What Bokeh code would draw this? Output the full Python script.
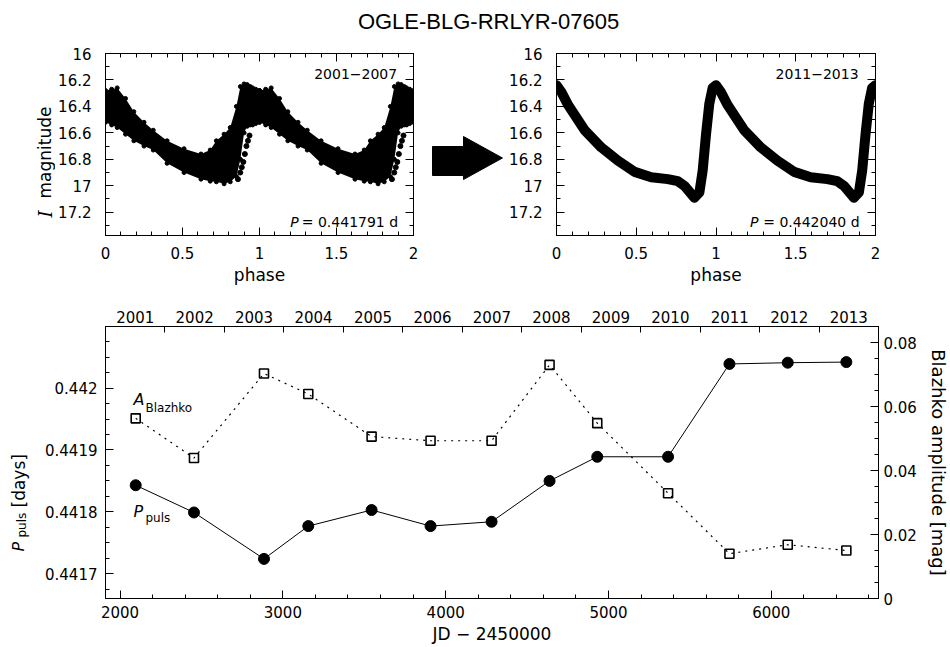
import numpy as np
from datetime import date
from bokeh.plotting import figure
from bokeh.layouts import column, row
from bokeh.models import (Range1d, LinearAxis, FixedTicker, SingleIntervalTicker,
                          NumeralTickFormatter, CustomJSTickFormatter, Label)
from bokeh.embed import file_html
from bokeh.resources import INLINE

# ---------------------------------------------------------------- data
TITLE = "OGLE-BLG-RRLYR-07605"

# 2001-2007 light curve (one pulsation cycle):
# bright (upper) and faint (lower) envelope of the dense band of points
lc1_phase = [0.00, 0.04, 0.076, 0.13, 0.184, 0.25, 0.31, 0.40, 0.51, 0.62, 0.68,
             0.72, 0.77, 0.81, 0.85, 0.876, 0.90, 0.92, 0.94, 0.955, 0.975, 1.00]
lc1_upper = [16.28, 16.27, 16.26, 16.34, 16.44, 16.52, 16.58, 16.66, 16.72, 16.76, 16.73,
             16.66, 16.61, 16.56, 16.40, 16.25, 16.23, 16.235, 16.25, 16.26, 16.27, 16.28]
lc1_lower = [16.52, 16.54, 16.56, 16.61, 16.66, 16.70, 16.73, 16.83, 16.90, 16.95, 16.965,
             16.97, 16.985, 16.97, 16.93, 16.80, 16.60, 16.55, 16.54, 16.54, 16.53, 16.52]
# isolated faint points on the rising branch
lc1_out_phase = [0.86, 0.875, 0.885, 0.895, 0.905, 0.915, 0.925, 0.935]
lc1_out_mag = [16.95, 16.90, 16.86, 16.82, 16.76, 16.70, 16.66, 16.62]
lc1_years = "2001\u22122007"
lc1_period = "= 0.441791 d"

# 2011-2013 light curve (one pulsation cycle, mean curve)
lc2_phase = [0.0, 0.03, 0.073, 0.177, 0.281, 0.385, 0.49, 0.594, 0.698, 0.76,
             0.802, 0.844, 0.865, 0.896, 0.917, 0.9375, 0.958, 0.979, 1.0]
lc2_mag = [16.24, 16.29, 16.39, 16.58, 16.71, 16.81, 16.895, 16.935, 16.95, 16.965,
           17.0, 17.06, 17.09, 17.05, 16.88, 16.61, 16.38, 16.26, 16.24]
lc2_years = "2011\u22122013"
lc2_period = "= 0.442040 d"

# seasonal values
seasons = ["2001", "2002", "2003", "2004", "2005", "2006", "2007",
           "2008", "2009", "2010", "2011", "2012", "2013"]
season_jd = [2096, 2454, 2884, 3156, 3545, 3907, 4282, 4638, 4931, 5366, 5743, 6101, 6461]
p_puls = [0.441843, 0.441799, 0.441724, 0.441777, 0.441803, 0.441777, 0.441784,
          0.441850, 0.441889, 0.441889, 0.442039, 0.442041, 0.442042]
a_blazhko = [0.0563, 0.0439, 0.0703, 0.0639, 0.0506, 0.0493, 0.0493,
             0.0730, 0.0548, 0.0329, 0.0140, 0.0168, 0.0150]

# ---------------------------------------------------------------- helpers
FONT = "DejaVu Sans"
TICK_FS = "15px"
LABEL_FS = "17px"
INK = "black"
ROT = np.pi / 2


def jd_of_year_start(y):
    return (date(y, 1, 1) - date(2000, 1, 1)).days + 2451544.5 - 2450000


year_starts = [jd_of_year_start(int(s)) for s in seasons] + [jd_of_year_start(int(seasons[-1]) + 1)]
year_mids = [(a + b) / 2 for a, b in zip(year_starts[:-1], year_starts[1:])]


def style_axis(ax, standoff, major=8, minor=4):
    ax.major_label_text_font = FONT
    ax.major_label_text_font_size = TICK_FS
    ax.major_label_text_color = INK
    ax.axis_line_color = INK
    ax.axis_line_width = 1
    ax.major_tick_in = major
    ax.major_tick_out = 0
    ax.minor_tick_in = minor
    ax.minor_tick_out = 0
    ax.major_tick_line_color = INK
    ax.minor_tick_line_color = INK
    ax.major_label_standoff = standoff
    ax.axis_label_text_font = FONT
    ax.axis_label_text_font_size = LABEL_FS
    ax.axis_label_text_font_style = "normal"
    ax.axis_label_text_color = INK
    ax.axis_label_standoff = 4


def mirror_axis(p, side, ticker, **kw):
    ax = LinearAxis(ticker=ticker, formatter=CustomJSTickFormatter(code="return ''"), **kw)
    style_axis(ax, 0)
    p.add_layout(ax, side)


def blank_figure(w, h):
    f = figure(frame_width=w, frame_height=h, x_range=Range1d(0, w), y_range=Range1d(h, 0),
               min_border=0, x_axis_location=None, y_axis_location=None,
               toolbar_location=None, output_backend="svg")
    f.grid.visible = False
    f.outline_line_color = None
    return f


def text(fig, x, y, s, size, **kw):
    kw.setdefault("text_font", FONT)
    fig.add_layout(Label(x=x, y=y, text=s, text_font_size=size, text_color=INK,
                         text_baseline="alphabetic", **kw))


def lc_figure(left, right, frame_width):
    p = figure(frame_width=frame_width, frame_height=182,
               x_range=Range1d(0, 2), y_range=Range1d(17.376, 16),
               min_border_left=left, min_border_right=right,
               min_border_top=13, min_border_bottom=55,
               toolbar_location=None, output_backend="svg")
    p.grid.visible = False
    p.outline_line_color = INK
    xt = SingleIntervalTicker(interval=0.5, num_minor_ticks=5)
    yt = SingleIntervalTicker(interval=0.2, num_minor_ticks=2)
    p.xaxis.ticker = xt
    p.yaxis.ticker = yt
    p.xaxis.formatter = NumeralTickFormatter(format="0.[0]")
    p.yaxis.formatter = NumeralTickFormatter(format="0.[0]")
    style_axis(p.xaxis[0], 11)
    style_axis(p.yaxis[0], 14)
    p.xaxis.axis_label = "phase"
    p.xaxis.axis_label_standoff = 3
    mirror_axis(p, "above", xt)
    mirror_axis(p, "right", yt)
    return p


def corner_labels(p, years, period, p_right):
    text(p, 1.894, 16.155, years, "14px", text_align="right")
    text(p, 1.9, 17.277, period, "14px", text_align="right")
    text(p, p_right, 17.277, "P", "14px", text_align="right", text_font_style="italic")


def two_cycles(phase, *mags):
    ph = np.concatenate([phase, np.array(phase) + 1])
    return (ph,) + tuple(np.concatenate([m, m]) for m in mags)


# ---------------------------------------------------------------- title
pt = blank_figure(950, 40)
text(pt, 488, 21, TITLE, "22px", text_align="center", text_font="Liberation Sans")

# ---------------------------------------------------------------- y title of light curves
lab1 = blank_figure(55, 250)
text(lab1, 45, 164, "I", "18px", angle=ROT, text_font="DejaVu Serif", text_font_style="italic")
text(lab1, 44, 145, "magnitude", LABEL_FS, angle=ROT)

# ---------------------------------------------------------------- light curve 2001-2007
p1 = lc_figure(50, 7, 308)
x1, u1, l1 = two_cycles(lc1_phase, lc1_upper, lc1_lower)
p1.varea(x=x1, y1=u1, y2=l1, fill_color=INK)
p1.scatter(x1, u1, size=4, color=INK)
p1.scatter(x1, l1, size=4, color=INK)
xo, mo = two_cycles(lc1_out_phase, lc1_out_mag)
p1.scatter(xo, mo, size=5, color=INK)
corner_labels(p1, lc1_years, lc1_period, 1.255)

# ---------------------------------------------------------------- arrow
pa = blank_figure(85, 250)
ARROW_X = [12, 43, 43, 82, 43, 43, 12]
ARROW_Y = [93, 93, 83, 104.5, 126, 122, 122]
pa.patch(ARROW_X, ARROW_Y, color=INK)

# ---------------------------------------------------------------- light curve 2011-2013
p2 = lc_figure(51, 75, 319)
x2 = np.concatenate([lc2_phase, np.array(lc2_phase[1:]) + 1])
m2 = np.concatenate([lc2_mag, lc2_mag[1:]])
p2.line(x2, m2, line_width=10, color=INK, line_join="round", line_cap="round")
corner_labels(p2, lc2_years, lc2_period, 1.266)

# ---------------------------------------------------------------- y title of bottom panel
lab3 = blank_figure(40, 357)
text(lab3, 18, 225, "P", "16px", angle=ROT, text_font_style="italic")
text(lab3, 21.5, 211, "puls", "12px", angle=ROT)
text(lab3, 18.5, 181, "[days]", LABEL_FS, angle=ROT)

# ---------------------------------------------------------------- period / amplitude
JD0, JD1 = year_starts[0], year_starts[-1]
P0, P1 = 0.44166, 0.4420995
p3 = figure(frame_width=773, frame_height=272,
            x_range=Range1d(JD0, JD1), y_range=Range1d(P0, P1),
            min_border_left=65, min_border_right=72, min_border_top=36, min_border_bottom=49,
            toolbar_location=None, output_backend="svg")
p3.grid.visible = False
p3.outline_line_color = INK
p3.extra_y_ranges = {"amp": Range1d(0, 0.085)}

p3.xaxis.ticker = SingleIntervalTicker(interval=1000, num_minor_ticks=5)
p3.yaxis.ticker = SingleIntervalTicker(interval=0.0001, num_minor_ticks=4)
p3.xaxis.formatter = NumeralTickFormatter(format="0")
p3.yaxis.formatter = NumeralTickFormatter(format="0.[0000]")
style_axis(p3.xaxis[0], 7)
style_axis(p3.yaxis[0], 8)
p3.xaxis.axis_label = "JD \u2212 2450000"
p3.xaxis.axis_label_standoff = 3

amp_axis = LinearAxis(y_range_name="amp",
                      ticker=SingleIntervalTicker(interval=0.02, num_minor_ticks=4),
                      formatter=NumeralTickFormatter(format="0.[00]"),
                      axis_label="Blazhko amplitude [mag]")
style_axis(amp_axis, 5)
amp_axis.axis_label_text_font_size = "18px"
amp_axis.axis_label_standoff = 8
p3.add_layout(amp_axis, "right")

year_axis = LinearAxis(ticker=FixedTicker(ticks=year_mids, minor_ticks=year_starts),
                       major_label_overrides={m: s for m, s in zip(year_mids, seasons)})
style_axis(year_axis, 4, major=0, minor=6)
p3.add_layout(year_axis, "above")

p3.line(season_jd, a_blazhko, y_range_name="amp", color=INK, line_width=1.2,
        line_dash="2 5")
p3.scatter(season_jd, a_blazhko, y_range_name="amp", marker="square", size=9,
           fill_alpha=0, line_color=INK, line_width=1.6)
p3.line(season_jd, p_puls, color=INK, line_width=1)
p3.scatter(season_jd, p_puls, marker="circle", size=11, color=INK)


def jd_px(px):
    return JD0 + (px - 105) / 773 * (JD1 - JD0)


def p_px(py):
    return P0 + (598 - py) / 272 * (P1 - P0)


# in-plot labels
text(p3, jd_px(133), p_px(399), "A", "16px", text_font_style="italic")
text(p3, jd_px(145), p_px(407), "Blazhko", "12px")
text(p3, jd_px(133), p_px(511), "P", "16px", text_font_style="italic")
text(p3, jd_px(145), p_px(517), "puls", "12px")

layout = column(pt, row(lab1, p1, pa, p2), row(lab3, p3))
open("out.html", "w").write(file_html(layout, INLINE))
